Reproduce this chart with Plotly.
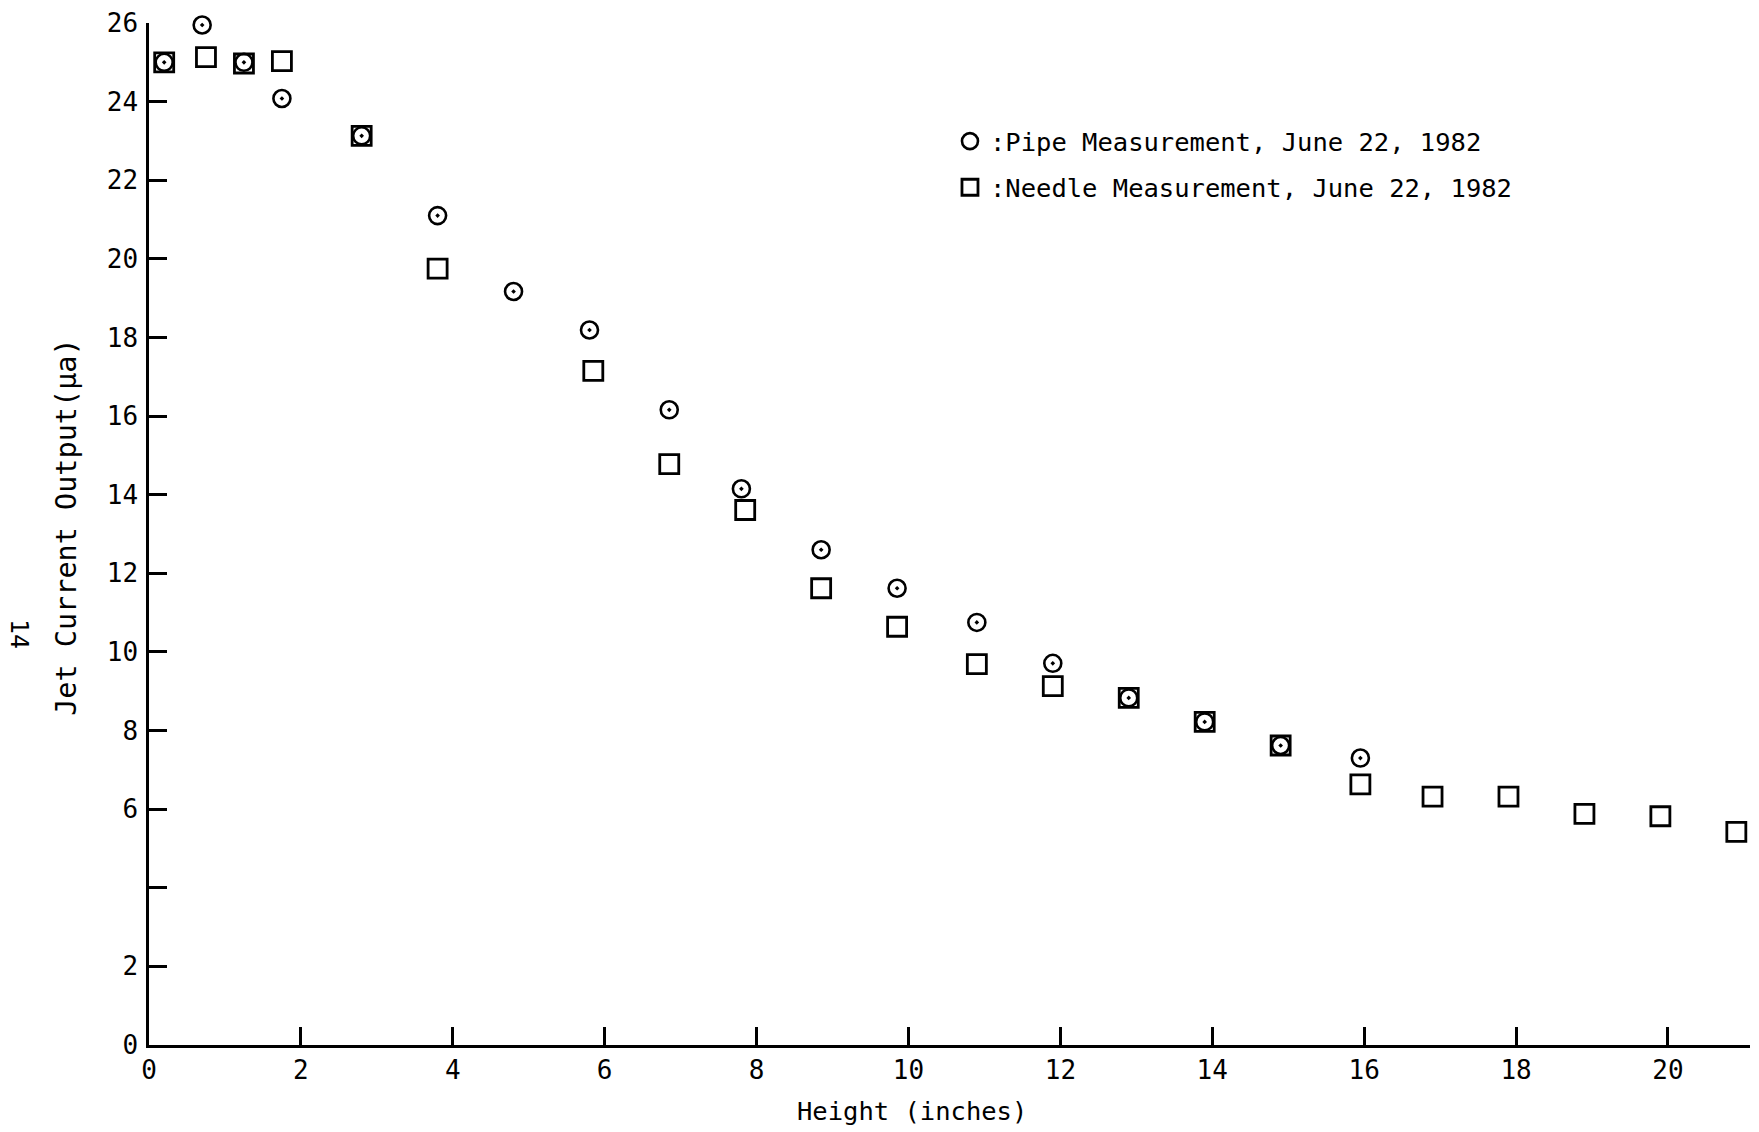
import plotly.graph_objects as go

# ---- data ----
pipe_x = [0.2, 0.7, 1.25, 1.75, 2.8, 3.8, 4.8, 5.8, 6.85, 7.8, 8.85, 9.85, 10.9, 11.9, 12.9, 13.9, 14.9, 15.95]
pipe_y = [25.0, 25.95, 25.0, 24.08, 23.13, 21.1, 19.17, 18.19, 16.16, 14.15, 12.6, 11.62, 10.75, 9.71, 8.83, 8.22, 7.62, 7.3]

needle_x = [0.2, 0.75, 1.25, 1.75, 2.8, 3.8, 5.85, 6.85, 7.85, 8.85, 9.85, 10.9, 11.9, 12.9, 13.9, 14.9,
            15.95, 16.9, 17.9, 18.9, 19.9, 20.9]
needle_y = [25.0, 25.13, 24.97, 25.03, 23.13, 19.75, 17.15, 14.78, 13.61, 11.62, 10.64, 9.69, 9.13, 8.83,
            8.22, 7.62, 6.63, 6.32, 6.32, 5.88, 5.82, 5.42]

y_tick_vals = [0, 2, 4, 6, 8, 10, 12, 14, 16, 18, 20, 22, 24, 26]
y_tick_text = ["0", "2", "", "6", "8", "10", "12", "14", "16", "18", "20", "22", "24", "26"]
x_tick_vals = [0, 2, 4, 6, 8, 10, 12, 14, 16, 18, 20]
x_tick_text = ["0", "2", "4", "6", "8", "10", "12", "14", "16", "18", "20"]

pipe_name = ":Pipe Measurement, June 22, 1982"
needle_name = ":Needle Measurement, June 22, 1982"
x_title = "Height (inches)"
y_title = "Jet Current Output(\u03bca)"
page_no = "14"

FONT = "DejaVu Sans Mono, Liberation Mono, monospace"

fig = go.Figure()
# data traces
fig.add_trace(go.Scatter(
    x=pipe_x, y=pipe_y, mode="markers", name=pipe_name, showlegend=False,
    cliponaxis=False,
    marker=dict(symbol="circle-open-dot", size=17, color="black",
                line=dict(width=2.6, color="black")),
))
fig.add_trace(go.Scatter(
    x=needle_x, y=needle_y, mode="markers", name=needle_name, showlegend=False,
    cliponaxis=False,
    marker=dict(symbol="square-open", size=19, color="black",
                line=dict(width=2.8, color="black")),
))
# legend entries (plain symbols, as in the key of the reference)
fig.add_trace(go.Scatter(
    x=[None], y=[None], mode="markers", name=pipe_name, legendgroup="a",
    marker=dict(symbol="circle-open", size=16, color="black",
                line=dict(width=2.6, color="black")),
))
fig.add_trace(go.Scatter(
    x=[None], y=[None], mode="markers", name=needle_name, legendgroup="b",
    marker=dict(symbol="square-open", size=16, color="black",
                line=dict(width=2.8, color="black")),
))

axis_common = dict(
    showline=True, linewidth=2.5, linecolor="black",
    ticks="inside", ticklen=18, tickwidth=2.5, tickcolor="black",
    showgrid=False, zeroline=False,
    tickfont=dict(family=FONT, size=26, color="black"),
)

fig.update_xaxes(range=[0, 21.08], tickvals=x_tick_vals, ticktext=x_tick_text, **axis_common)
fig.update_yaxes(range=[0, 26], tickvals=y_tick_vals, ticktext=y_tick_text,
                 ticklabelstandoff=3, **axis_common)

fig.add_annotation(text=x_title, xref="paper", yref="paper", x=0.4766, y=-0.0646,
                   xanchor="center", yanchor="middle", showarrow=False,
                   font=dict(family=FONT, size=25.5, color="black"))
fig.add_annotation(text=y_title, xref="paper", yref="paper", x=-0.0512, y=0.507,
                   xanchor="center", yanchor="middle", showarrow=False, textangle=-90,
                   font=dict(family=FONT, size=28.5, color="black"))
fig.add_annotation(text=page_no, xref="paper", yref="paper", x=-0.0805, y=0.402,
                   xanchor="center", yanchor="middle", showarrow=False, textangle=90,
                   font=dict(family=FONT, size=25, color="black"))

fig.update_layout(
    width=1759, height=1132,
    margin=dict(l=149, r=9, t=23, b=87),
    paper_bgcolor="white", plot_bgcolor="white",
    showlegend=True,
    legend=dict(x=0.5003, y=0.907, xanchor="left", yanchor="top",
                bgcolor="rgba(0,0,0,0)", tracegroupgap=10,
                font=dict(family=FONT, size=25.5, color="black"),
                itemsizing="trace"),
    font=dict(family=FONT, color="black"),
)

fig.write_html("out.html")
